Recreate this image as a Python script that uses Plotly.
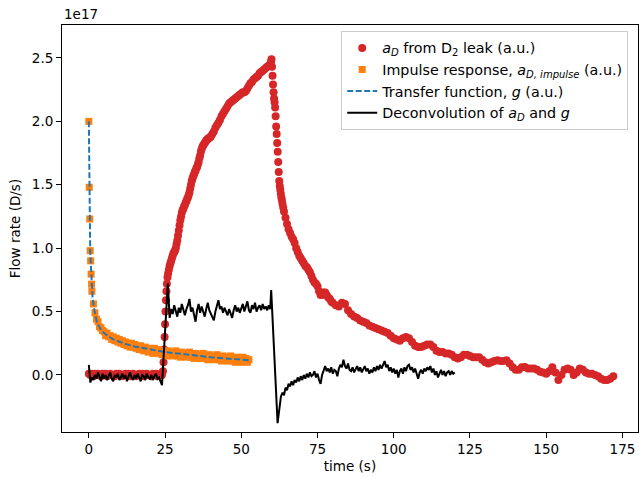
import numpy as np
import plotly.graph_objects as go

SCALE = 1e17  # y values below are in units of 1e17 D/s

# ---------------- a_D from D2 leak (red dots) ----------------
red_a_start, red_a_step = 0.0, 0.5
red_a = [0.01, 0.00, 0.01, -0.01, 0.01, 0.00, 0.01, 0.00, -0.01, 0.01, 0.00, 0.01, -0.01, 0.00,
         0.01, 0.00, 0.00, -0.01, 0.01, 0.00, 0.01, 0.00, -0.01, 0.00, 0.01, 0.00, 0.01, -0.01,
         0.00, 0.01, 0.00, -0.01, 0.00, 0.01, 0.00, 0.01, -0.01, 0.00, 0.01, 0.00, 0.00, -0.01,
         0.01, 0.00, 0.01, -0.01, 0.00, 0.01, 0.00]
red_b_t = [24.3, 24.5, 24.7, 24.85, 25.0, 25.15, 25.3, 25.45, 25.6, 25.8]
red_b = [0.03, 0.10, 0.20, 0.30, 0.40, 0.50, 0.59, 0.66, 0.72, 0.77]
red_c_start, red_c_step = 26.0, 0.25
red_c = [0.80, 0.83, 0.86, 0.88, 0.90, 0.92, 0.94, 0.96, 0.97, 0.98, 1.00, 1.03, 1.06, 1.10,
         1.14, 1.18, 1.22, 1.25, 1.28, 1.30, 1.31, 1.33, 1.34, 1.36, 1.37, 1.39, 1.40, 1.42,
         1.44, 1.47, 1.50, 1.53, 1.55, 1.57, 1.58, 1.60, 1.61, 1.63, 1.64, 1.66, 1.68, 1.71,
         1.73, 1.76, 1.78, 1.80, 1.81, 1.82, 1.83, 1.84, 1.85, 1.855, 1.86, 1.865, 1.87,
         1.875, 1.88]
red_g_start, red_g_step = 40.5, 0.5
red_g = [1.90, 1.92, 1.95, 1.97, 1.99, 2.01, 2.04, 2.06, 2.08, 2.10, 2.12, 2.14, 2.15, 2.16,
         2.17, 2.18, 2.19, 2.20, 2.21, 2.22, 2.23, 2.23, 2.24, 2.26, 2.28, 2.30, 2.31, 2.33,
         2.34, 2.35, 2.36, 2.38, 2.39, 2.40, 2.41, 2.42, 2.43, 2.44, 2.45]
red_d_t = [59.75, 59.9, 60.07, 60.24, 60.41, 60.58, 60.75, 60.92, 61.09, 61.26, 61.43, 61.6,
           61.77, 61.94, 62.11, 62.28, 62.45, 62.62, 62.79, 62.96, 63.13, 63.3, 63.5, 63.75]
red_d = [2.47, 2.49, 2.43, 2.36, 2.29, 2.23, 2.18, 2.15, 2.11, 2.04, 1.96, 1.90,
         1.83, 1.76, 1.68, 1.60, 1.53, 1.49, 1.46, 1.43, 1.40, 1.38, 1.35, 1.32]
red_e_start, red_e_step = 64.0, 0.5
red_e = [1.29, 1.24, 1.19, 1.15, 1.12, 1.09, 1.07, 1.04, 1.00, 0.97, 0.94, 0.92, 0.90, 0.88,
         0.86, 0.85, 0.83, 0.81, 0.78, 0.75, 0.73, 0.72, 0.70, 0.66, 0.63, 0.63, 0.65, 0.65,
         0.63, 0.61, 0.60, 0.58]
red_f_start, red_f_step = 80.0, 1.0
red_f = [0.57, 0.55, 0.54, 0.57, 0.56, 0.51, 0.48, 0.46, 0.45, 0.43, 0.42, 0.41, 0.39, 0.38,
         0.37, 0.36, 0.35, 0.34, 0.33, 0.31, 0.29, 0.28, 0.27, 0.29, 0.30, 0.29, 0.26, 0.23,
         0.22, 0.22, 0.23, 0.24, 0.24, 0.22, 0.19, 0.18, 0.18, 0.17, 0.17, 0.16, 0.14, 0.13,
         0.14, 0.16, 0.16, 0.15, 0.14, 0.14, 0.14, 0.12, 0.10, 0.09, 0.10, 0.11, 0.115, 0.11,
         0.11, 0.115, 0.09, 0.06, 0.04, 0.04, 0.06, 0.063, 0.05, 0.05, 0.05, 0.04, 0.025, 0.02,
         0.01, 0.03, 0.06, 0.02, -0.04, 0.00, 0.04, 0.05, 0.04, 0.00, 0.02, 0.05, 0.04, 0.02,
         0.01, 0.01, 0.00, -0.01, -0.03, -0.04, -0.04, -0.03, -0.01]

# ---------------- impulse response (orange squares) ----------------
imp_a_t = [0.0, 0.15, 0.3, 0.45, 0.6, 0.75, 0.9]
imp_a = [2.00, 1.48, 1.23, 0.98, 0.90, 0.795, 0.716]
imp_b_start, imp_b_step = 1.0, 0.5
imp_b = [0.66, 0.56, 0.49, 0.44, 0.42, 0.38, 0.37, 0.35, 0.34, 0.31, 0.33, 0.30, 0.31, 0.28,
         0.30, 0.27, 0.29, 0.26, 0.28, 0.25, 0.27, 0.24, 0.26, 0.23, 0.25, 0.22, 0.25, 0.22,
         0.24, 0.21, 0.23, 0.20, 0.23, 0.21, 0.19, 0.22, 0.20, 0.18, 0.21, 0.19, 0.17, 0.21,
         0.18, 0.20, 0.17, 0.19, 0.16, 0.19, 0.17, 0.15, 0.19, 0.16, 0.18, 0.15, 0.17, 0.19,
         0.15, 0.17, 0.14, 0.18, 0.15, 0.17, 0.14, 0.16, 0.18, 0.14, 0.16, 0.13, 0.17, 0.14,
         0.16, 0.13, 0.15, 0.17, 0.13, 0.15, 0.12, 0.16, 0.13, 0.15, 0.12, 0.14, 0.16, 0.12,
         0.14, 0.11, 0.15, 0.12, 0.14, 0.11, 0.13, 0.15, 0.11, 0.13, 0.10, 0.14, 0.11, 0.13,
         0.10, 0.14, 0.11, 0.13, 0.10, 0.12]

# ---------------- transfer function (blue dashed) ----------------
tf_t = [0, 0.15, 0.3, 0.45, 0.6, 0.75, 0.9, 1.2, 1.6, 2, 2.5, 3, 4, 5, 6, 7, 8, 10, 12, 15,
        18, 21, 25, 29, 34, 40, 45, 50, 52.6]
tf = [2.0, 1.48, 1.23, 0.98, 0.90, 0.795, 0.716, 0.62, 0.54, 0.48, 0.43, 0.40, 0.355, 0.33,
      0.31, 0.295, 0.28, 0.26, 0.245, 0.225, 0.21, 0.195, 0.18, 0.17, 0.155, 0.14, 0.13,
      0.12, 0.115]

# ---------------- deconvolution (black line) ----------------
dec_a_start, dec_a_step = 0.0, 0.5
dec_a = [0.08, -0.06, -0.02, -0.04, 0.00, -0.03, 0.02, -0.02, -0.05, 0.01, -0.03, 0.00, -0.04,
         -0.01, 0.02, -0.03, -0.05, 0.00, -0.02, 0.01, -0.04, -0.02, 0.01, -0.03, 0.00, -0.05,
         -0.01, 0.02, -0.02, -0.04, 0.00, -0.03, 0.01, -0.02, -0.05, 0.00, -0.01, -0.04, 0.01,
         -0.02, -0.03, 0.00, -0.04, -0.01, 0.01, -0.03, -0.02, -0.05, -0.08]
dec_b_t = [25.9, 26.5]
dec_b = [0.72, 0.45]
dec_c_start, dec_c_step = 27.0, 0.5
dec_c = [0.52, 0.48, 0.55, 0.50, 0.46, 0.53, 0.49, 0.56, 0.50, 0.47, 0.52, 0.55, 0.60, 0.50,
         0.53, 0.47, 0.42, 0.51, 0.56, 0.49, 0.54, 0.50, 0.46, 0.52, 0.57, 0.51, 0.48, 0.46,
         0.43, 0.50, 0.55, 0.59, 0.52, 0.54, 0.49, 0.53, 0.50, 0.47, 0.52, 0.48, 0.45, 0.51,
         0.55, 0.50, 0.53, 0.49, 0.52, 0.56, 0.50, 0.54, 0.58, 0.51, 0.49, 0.55, 0.52, 0.57,
         0.50, 0.53, 0.55, 0.51, 0.56, 0.52, 0.54, 0.51, 0.55, 0.52]
dec_d_t = [59.8, 61.9]
dec_d = [0.67, -0.38]
dec_e_start, dec_e_step = 63.0, 0.5
dec_e = [-0.17, -0.14, -0.16, -0.10, -0.12, -0.07, -0.09, -0.05, -0.08, -0.04, -0.06, -0.02,
         -0.05, -0.01, -0.04, 0.00, -0.03, 0.01, -0.02, 0.02, -0.01, 0.00, 0.03, -0.02, 0.01,
         -0.04, -0.07, 0.00, 0.04, 0.07, 0.03, 0.05, 0.02, 0.06, 0.01, 0.04, 0.03, -0.01, 0.05,
         0.08, 0.06, 0.12, 0.07, 0.05, 0.09, 0.04, 0.03, 0.06, 0.02, 0.05, 0.07, 0.03, 0.06,
         0.02, 0.05, 0.07, 0.03, 0.05, 0.01, 0.04, 0.02, 0.06, 0.03, 0.07, 0.04, 0.08, 0.05,
         0.09, 0.11, 0.06, 0.08, 0.03, 0.06, 0.02, 0.05, 0.01, 0.04, -0.02, 0.03, 0.05, 0.01,
         0.06, 0.03, 0.07, 0.08, 0.04, 0.06, 0.02, 0.05, 0.01, -0.03, 0.02, 0.04, 0.01, 0.05,
         0.03, 0.06, 0.04, 0.07, 0.02, 0.05, 0.00, 0.03, -0.02, 0.02, 0.04, 0.00, 0.03, -0.01,
         0.02, 0.03, 0.00, 0.03, 0.01, 0.02]

x_ticks = [0, 25, 50, 75, 100, 125, 150, 175]
y_ticks = [0.0, 0.5, 1.0, 1.5, 2.0, 2.5]
y_tick_text = ["0.0", "0.5", "1.0", "1.5", "2.0", "2.5"]


def grid(start, step, vals):
    return [start + step * i for i in range(len(vals))]


def sc(vals):
    return [v * SCALE for v in vals]


red_t = (grid(red_a_start, red_a_step, red_a) + red_b_t + grid(red_c_start, red_c_step, red_c)
         + grid(red_g_start, red_g_step, red_g) + red_d_t
         + grid(red_e_start, red_e_step, red_e) + grid(red_f_start, red_f_step, red_f))
red_y = red_a + red_b + red_c + red_g + red_d + red_e + red_f
imp_t = imp_a_t + grid(imp_b_start, imp_b_step, imp_b)
imp_y = imp_a + imp_b
dec_t = (grid(dec_a_start, dec_a_step, dec_a) + dec_b_t + grid(dec_c_start, dec_c_step, dec_c)
         + dec_d_t + grid(dec_e_start, dec_e_step, dec_e))
dec_y = dec_a + dec_b + dec_c + dec_d + dec_e

FONT = "DejaVu Sans"
fig = go.Figure()
fig.add_trace(go.Scatter(
    x=red_t, y=sc(red_y), mode="markers", legendgroup="a",
    marker=dict(color="#d62728", size=8, symbol="circle", line=dict(width=0)),
    name="<i>a</i><sub><i>D</i></sub> from D<sub>2</sub> leak (a.u.)"))
fig.add_trace(go.Scatter(
    x=imp_t, y=sc(imp_y), mode="markers", legendgroup="b",
    marker=dict(color="#ff7f0e", size=7, symbol="square", line=dict(width=0)),
    name="Impulse response, <i>a</i><sub><i>D, impulse</i></sub> (a.u.)"))
fig.add_trace(go.Scatter(
    x=tf_t, y=sc(tf), mode="lines", legendgroup="c",
    line=dict(color="#1f77b4", width=2, dash="6px,2.5px"),
    name="Transfer function, <i>g</i> (a.u.)"))
fig.add_trace(go.Scatter(
    x=dec_t, y=sc(dec_y), mode="lines", legendgroup="d",
    line=dict(color="black", width=2),
    name="Deconvolution of <i>a</i><sub><i>D</i></sub> and <i>g</i>"))

axis_common = dict(showline=True, linecolor="black", linewidth=1, mirror=True,
                   ticks="outside", ticklen=5, tickwidth=1, tickcolor="black",
                   showgrid=False, zeroline=False,
                   tickfont=dict(family=FONT, size=13.5, color="black"))
fig.update_xaxes(range=[-8.8, 180.1], tickvals=x_ticks,
                 title=dict(text="time (s)", font=dict(family=FONT, size=13.5, color="black"),
                            standoff=5),
                 **axis_common)
fig.update_yaxes(range=[-0.45 * SCALE, 2.76 * SCALE], tickvals=sc(y_ticks), ticktext=y_tick_text,
                 title=dict(text="Flow rate (D/s)", font=dict(family=FONT, size=13.5, color="black"),
                            standoff=8),
                 **axis_common)
fig.add_annotation(text="1e17", xref="paper", yref="paper", x=0, y=1, xanchor="left",
                   yanchor="bottom", showarrow=False, yshift=1,
                   font=dict(family=FONT, size=13.5, color="black"))
fig.update_layout(
    width=639, height=478, margin=dict(l=62, r=1, t=25, b=46),
    plot_bgcolor="white", paper_bgcolor="white",
    font=dict(family=FONT, size=13.5, color="black"),
    legend=dict(x=0.983, y=0.985, xanchor="right", yanchor="top",
                bgcolor="rgba(255,255,255,0.8)", bordercolor="#cccccc", borderwidth=1,
                font=dict(family=FONT, size=14.3, color="black"), tracegroupgap=0,
                itemwidth=30),
    showlegend=True,
)
fig.write_html("out.html")
